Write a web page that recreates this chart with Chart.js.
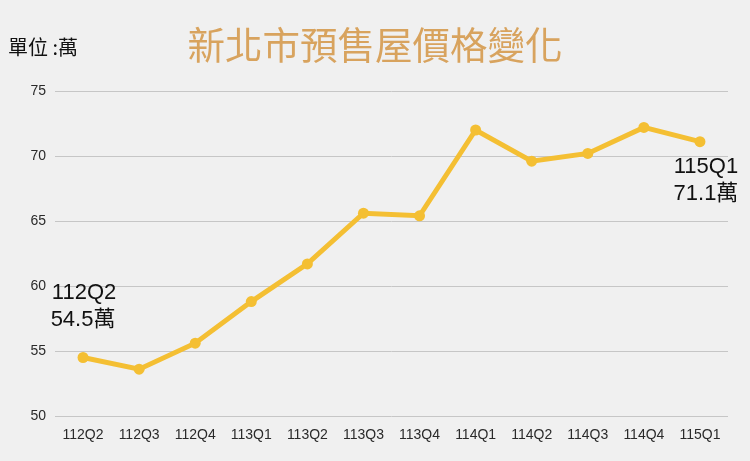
<!DOCTYPE html>
<html>
<head>
<meta charset="utf-8">
<script src="https://cdn.jsdelivr.net/npm/chart.js@4.4.1/dist/chart.umd.min.js"></script>
<style>
  html, body { margin: 0; padding: 0; background: #f0f0f0; }
  #wrap { width: 750px; height: 461px; position: relative; }
</style>
</head>
<body>
<div id="wrap"><canvas id="c" width="750" height="461"></canvas></div>
<script>
const titleText = '新北市預售屋價格變化';
const unitText = '單位 :萬';
const categories = ['112Q2','112Q3','112Q4','113Q1','113Q2','113Q3','113Q4','114Q1','114Q2','114Q3','114Q4','115Q1'];
const prices = [54.5, 53.6, 55.6, 58.8, 61.7, 65.6, 65.4, 72.0, 69.6, 70.2, 72.2, 71.1];
const yTicks = [50, 55, 60, 65, 70, 75];
const callouts = [
  { index: 0, lines: ['112Q2', '54.5萬'] },
  { index: 11, lines: ['115Q1', '71.1萬'] }
];

const bgPlugin = {
  id: 'bg',
  beforeDraw(chart) {
    const ctx = chart.ctx;
    ctx.save();
    ctx.fillStyle = '#f0f0f0';
    ctx.fillRect(0, 0, chart.width, chart.height);
    ctx.restore();
  }
};

const textPlugin = {
  id: 'texts',
  afterDraw(chart) {
    const ctx = chart.ctx;
    const xs = chart.scales.x, ys = chart.scales.y;
    ctx.save();
    // unit label
    ctx.fillStyle = '#111';
    ctx.font = '20px "Noto Sans CJK TC", "Liberation Sans", sans-serif';
    ctx.textAlign = 'left';
    ctx.textBaseline = 'middle';
    ctx.fillText(unitText, 8, 47);
    // callouts
    ctx.font = '22px "Liberation Sans", "Noto Sans CJK TC", sans-serif';
    ctx.textAlign = 'center';
    ctx.textBaseline = 'alphabetic';
    callouts.forEach(c => {
      const px = xs.getPixelForValue(c.index);
      const py = ys.getPixelForValue(prices[c.index]);
      if (c.index === 0) {
        ctx.fillText(c.lines[0], px + 1, py - 59);
        ctx.fillText(c.lines[1], px, py - 32);
      } else {
        ctx.fillText(c.lines[0], px + 6, py + 31);
        ctx.fillText(c.lines[1], px + 6, py + 58);
      }
    });
    ctx.restore();
  }
};

new Chart(document.getElementById('c'), {
  type: 'line',
  data: {
    labels: categories,
    datasets: [{
      data: prices,
      borderColor: '#f4bf33',
      backgroundColor: '#f4bf33',
      borderWidth: 5,
      pointRadius: 5.5,
      pointHoverRadius: 5.5,
      pointBackgroundColor: '#f4bf33',
      pointBorderWidth: 0,
      tension: 0,
      fill: false
    }]
  },
  options: {
    responsive: false,
    animation: false,
    devicePixelRatio: 1,
    layout: { padding: { left: 22, right: 22, top: 0, bottom: 0 } },
    plugins: {
      legend: { display: false },
      tooltip: { enabled: false },
      title: {
        display: true,
        text: titleText,
        color: '#d8a35e',
        font: { family: '"Noto Sans CJK TC", sans-serif', size: 37.5, weight: 'normal', lineHeight: 1.2 },
        padding: { top: 22, bottom: 24 }
      }
    },
    scales: {
      x: {
        offset: true,
        grid: { display: false, drawTicks: false },
        border: { display: false },
        ticks: {
          color: '#2a2a2a',
          font: { family: '"Liberation Sans", Arial, sans-serif', size: 14 },
          padding: 11,
          maxRotation: 0,
          autoSkip: false
        },
        afterFit(scale) { scale.height = 45; }
      },
      y: {
        min: 50,
        max: 75,
        afterBuildTicks(scale) { scale.ticks = yTicks.map(v => ({ value: v })); },
        grid: { color: '#c6c6c6', lineWidth: 1, drawTicks: false },
        border: { display: false },
        ticks: {
          color: '#2a2a2a',
          font: { family: '"Liberation Sans", Arial, sans-serif', size: 14 },
          padding: 9
        },
        afterFit(scale) { scale.width = 33; }
      }
    }
  },
  plugins: [bgPlugin, textPlugin]
});
</script>
</body>
</html>
